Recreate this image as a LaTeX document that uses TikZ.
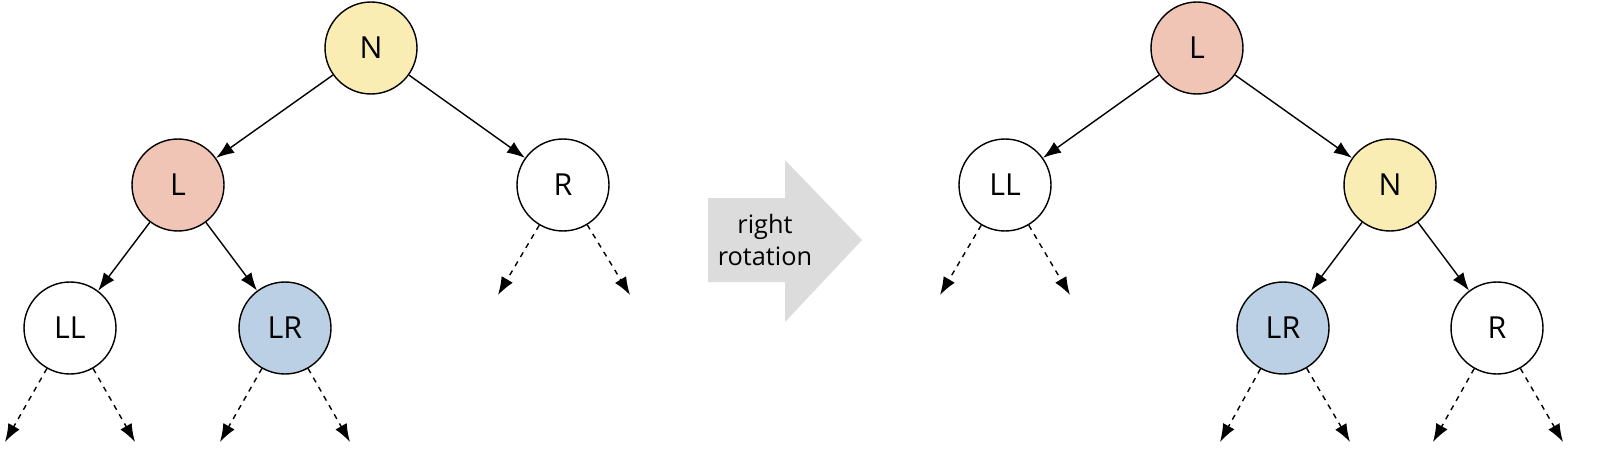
\documentclass[tikz,border=0pt]{standalone}
\usepackage{fontspec}
\setmainfont{Open Sans}
\usetikzlibrary{arrows.meta}
\definecolor{nyellow}{HTML}{F9EDB3}
\definecolor{lred}{HTML}{F0C5B5}
\definecolor{lrblue}{HTML}{BCD0E5}
\definecolor{rotgray}{HTML}{DCDCDC}
\tikzset{
  tnode/.style={circle, draw, thick, minimum size=1.84cm, inner sep=0pt, font=\LARGE},
  link/.style={-{Latex[length=3.6mm,width=2.6mm]}, thick},
  sub/.style={-{Latex[length=3.6mm,width=2.6mm]}, thick, dashed}
}
\begin{document}
\begin{tikzpicture}[x=0.02cm,y=-0.02cm]
\useasboundingbox (0,0) rectangle (1600,456);

% before rotation
\node[tnode, fill=nyellow] (N) at (371,48) {N};
\node[tnode, fill=lred] (L) at (178,185) {L};
\node[tnode] (R) at (563,185) {R};
\node[tnode] (LL) at (70,328) {LL};
\node[tnode, fill=lrblue] (LR) at (285,328) {LR};

\coordinate (Ra) at (498,295);
\coordinate (Rb) at (630,295);
\coordinate (LLa) at (5,442);
\coordinate (LLb) at (135,442);
\coordinate (LRa) at (220,442);
\coordinate (LRb) at (350,442);

\foreach \from/\to in {N/L, N/R, L/LL, L/LR}
	\draw[link] (\from) -- (\to);
\foreach \from/\to in {R/Ra, R/Rb, LL/LLa, LL/LLb, LR/LRa, LR/LRb}
	\draw[sub] (\from) -- (\to);

% rotation arrow
\fill[rotgray] (708,198) -- (785,198) -- (785,160) -- (862,240) -- (785,322) -- (785,282) -- (708,282) -- cycle;
\node[font=\Large, align=center] (rot) at (765,240) {right\\rotation};

% after rotation
\node[tnode, fill=lred] (L2) at (1197,48) {L};
\node[tnode] (LL2) at (1005,185) {LL};
\node[tnode, fill=nyellow] (N2) at (1390,185) {N};
\node[tnode, fill=lrblue] (LR2) at (1283,328) {LR};
\node[tnode] (R2) at (1497,328) {R};

\coordinate (LL2a) at (940,295);
\coordinate (LL2b) at (1070,295);
\coordinate (LR2a) at (1220,442);
\coordinate (LR2b) at (1350,442);
\coordinate (R2a) at (1433,442);
\coordinate (R2b) at (1563,442);

\foreach \from/\to in {L2/LL2, L2/N2, N2/LR2, N2/R2}
	\draw[link] (\from) -- (\to);
\foreach \from/\to in {LL2/LL2a, LL2/LL2b, LR2/LR2a, LR2/LR2b, R2/R2a, R2/R2b}
	\draw[sub] (\from) -- (\to);

\end{tikzpicture}
\end{document}
